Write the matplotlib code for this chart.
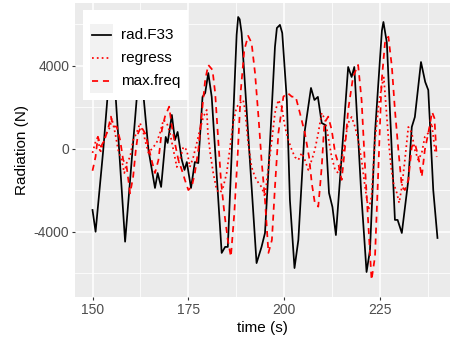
import matplotlib
matplotlib.use("Agg")
import matplotlib.pyplot as plt
from matplotlib.patches import Rectangle
from matplotlib.lines import Line2D

plt.rcParams["font.family"] = ["Liberation Sans", "DejaVu Sans"]

# rad.F33 (measured)
t_rad = [150.0, 150.8, 152.8, 155.0, 156.1, 158.5, 161.5, 162.5, 163.4, 164.6,
         166.3, 167.0, 167.9, 169.1, 169.6, 170.7, 171.5, 172.2, 173.3, 174.0,
         174.6, 175.7, 176.7, 177.6, 178.7, 179.4, 180.2, 181.1, 183.7, 184.6,
         185.3, 187.6, 188.0, 188.4, 188.9, 192.8, 194.1, 195.0, 196.3, 197.6,
         198.1, 198.9, 199.5, 200.7, 201.5, 202.7, 203.7, 205.3, 207.0, 207.9,
         208.8, 209.8, 210.7, 211.7, 212.6, 213.5, 214.8, 216.7, 217.6, 218.3,
         220.1, 221.5, 222.4, 223.7, 225.5, 225.9, 226.8, 228.9, 229.6, 230.7,
         232.4, 233.3, 234.1, 235.7, 236.8, 237.6, 238.9, 240.0]
y_rad = [-2940, -3990, -50, 5000, 2360, -4470, 2360, 5250, 2360, -50,
         -1880, -1160, -1830, 580, 290, 1640, 430, 820, -530, -1010,
         -630, -1880, -630, -680, 2510, 2700, 3660, 2510, -5010, -4720,
         -4720, 5500, 6360, 6250, 5590, -5500, -4720, -4050, 290, 4920,
         5830, 5980, 5590, 2360, -2460, -5740, -4390, 770, 2940, 2360,
         2510, 1250, 1160, -2120, -2800, -4150, -870, 3950, 3470, 3950,
         -2120, -5930, -4870, 770, 5700, 6120, 5110, -3420, -3420, -4050,
         -1490, 1060, 1540, 4190, 3230, 2840, -1980, -4290]

# regress
t_reg = [150.0, 150.7, 151.4, 152.0, 152.8, 153.7, 154.6, 155.0, 155.9, 156.7,
         157.6, 158.3, 158.9, 159.8, 160.6, 161.5, 162.4, 163.3, 163.7, 164.6,
         165.9, 166.7, 167.6, 168.5, 169.4, 170.2, 171.1, 172.0, 172.8, 173.7,
         174.6, 175.4, 176.3, 177.2, 178.0, 178.9, 179.8, 180.1, 180.7, 181.5,
         182.4, 183.3, 184.1, 185.0, 185.9, 186.7, 187.6, 188.5, 189.3, 189.8,
         190.6, 191.5, 192.4, 193.3, 194.1, 195.0, 195.9, 196.8, 197.6, 198.5,
         199.4, 200.2, 201.1, 202.0, 202.8, 203.7, 204.6, 205.4, 206.3, 207.2,
         208.0, 208.9, 209.8, 210.7, 211.5, 212.4, 213.3, 214.1, 215.0, 215.9,
         216.7, 217.6, 218.5, 219.3, 220.2, 221.1, 222.0, 222.8, 223.7, 224.6,
         225.4, 226.0, 227.3, 227.9, 228.5, 229.4, 230.0, 230.7, 231.5, 232.4,
         233.3, 234.1, 235.0, 235.9, 236.7, 237.6, 238.5, 239.4]
y_reg = [-190, 290, 580, -190, 290, 770, 1060, 1490, 770, -50,
         -530, -1160, -680, -390, 430, 770, 1250, 770, 430, -190,
         100, 290, 770, 1400, 1250, 770, -50, -870, -530, 100,
         -50, -870, -390, 290, 920, 1540, 1880, 770, -190, -1160,
         -1980, -2120, -1830, -1160, 100, 1250, 2020, 2220, 2360, 1880,
         290, -870, -1350, -1640, -1830, -2310, -870, 430, 1740, 2360,
         2020, 1060, 430, -50, -390, -530, -190, -530, -1010, -530,
         -50, 770, 1740, 1400, 580, -390, -1010, -1160, -530, 430,
         1250, 1540, 1060, 430, -530, -1830, -2940, -2310, 430, 2020,
         2990, 3450, 290, -870, -1640, -2120, -2600, -1830, -530, 1060,
         770, -50, -530, -190, 580, 770, 1250, -190]

# max.freq
t_max = [150.0, 150.8, 151.4, 152.2, 153.1, 154.0, 154.8, 155.4, 156.3, 157.2,
         158.0, 158.9, 159.8, 160.6, 161.3, 161.9, 162.7, 163.7, 164.6, 165.4,
         166.3, 167.2, 168.1, 168.9, 170.0, 170.7, 171.5, 172.4, 173.3, 174.1,
         175.0, 175.9, 176.7, 177.6, 178.6, 179.4, 180.2, 181.3, 182.0, 182.8,
         183.5, 184.4, 185.3, 186.1, 187.0, 187.9, 188.7, 189.6, 190.6, 191.5,
         192.4, 193.3, 194.1, 195.0, 195.9, 196.8, 197.6, 198.5, 199.8, 200.9,
         202.0, 203.0, 204.1, 205.4, 206.5, 207.2, 208.0, 208.9, 209.8, 210.5,
         211.5, 212.4, 213.3, 214.1, 215.0, 215.9, 216.7, 218.0, 219.3, 220.2,
         221.1, 222.0, 222.8, 223.7, 224.6, 225.4, 226.3, 227.2, 228.1, 228.9,
         229.8, 230.7, 231.5, 232.4, 233.3, 234.1, 235.0, 235.9, 236.7, 237.6,
         238.6, 239.2, 239.8]
y_max = [-1050, -370, 590, 110, 430, 920, 1560, 1080, 1080, 430,
         -530, -850, -2140, -1340, -50, 760, 1080, 760, 110, -530,
         -1160, -530, 920, 1560, 2040, 1080, 280, -530, -1010, -1490,
         -1980, -1820, -1160, -50, 1880, 3330, 4050, 3810, 2700, 430,
         -1490, -3090, -4390, -5190, -3090, -190, 2840, 4770, 5450, 5110,
         3660, 1540, -530, -2460, -5010, -4390, -1830, 770, 2520, 2700,
         2520, 2520, 1740, 770, -390, -1640, -2600, -2780, -870, 1250,
         1560, 920, -190, -680, -1490, 110, 1880, 3490, 4050, 2360,
         -870, -3760, -6310, -5190, -870, 3180, 5110, 5410, 3970, 1880,
         -50, -1820, -1980, -1490, 110, 280, -370, -1340, -50, 760,
         1780, 1490, -390]

xticks = [150, 175, 200, 225]
yticks = [-4000, 0, 4000]
ytick_labels = ["-4000", "0", "4000"]
series_names = ["rad.F33", "regress", "max.freq"]

fig = plt.figure(figsize=(4.5, 3.41), dpi=100)
ax = fig.add_axes([75 / 450, 1 - 296.7 / 341, 375 / 450, 293.4 / 341])
ax.set_facecolor("#EBEBEB")
for s in ax.spines.values():
    s.set_visible(False)

DOT = (0, (1, 1.8))
DASH = (0, (3.5, 2.8))
ax.plot(t_rad, y_rad, color="black", lw=1.25, zorder=3)
ax.plot(t_reg, y_reg, color="red", lw=1.25, ls=DOT, zorder=3)
ax.plot(t_max, y_max, color="red", lw=1.25, ls=DASH, zorder=3)

ax.set_xlim(145.43, 243.27)
ax.set_ylim(-7120, 7020)

ax.set_xticks(xticks)
ax.set_yticks(yticks, ytick_labels)
ax.set_xticks([162.5, 187.5, 212.5, 237.5], minor=True)
ax.set_yticks([-6000, -2000, 2000, 6000], minor=True)
ax.grid(which="major", color="white", lw=1.1, zorder=0)
ax.grid(which="minor", color="white", lw=0.55, zorder=0)
ax.set_axisbelow(True)
ax.tick_params(which="major", length=2.2, width=0.8, color="#333333",
               labelcolor="#4D4D4D", labelsize=10, pad=2)
ax.tick_params(which="minor", length=0)

ax.set_xlabel("time (s)", fontsize=11, labelpad=3)
ax.set_ylabel("Radiation (N)", fontsize=11, labelpad=3)

# legend drawn by hand, ggplot style
tr = ax.transAxes
ax.add_patch(Rectangle((0.0213, 0.6704), 0.28, 0.3068, transform=tr,
                       facecolor="white", edgecolor="none", zorder=10))
ax.add_patch(Rectangle((0.04, 0.6939), 0.0613, 0.2366, transform=tr,
                       facecolor="#F2F2F2", edgecolor="none", zorder=11))
styles = [dict(color="black", ls="-"),
          dict(color="red", ls=DOT),
          dict(color="red", ls=DASH)]
rows = [0.8903, 0.8119, 0.7335]
for name, st, yy in zip(series_names, styles, rows):
    ax.add_line(Line2D([0.046, 0.096], [yy, yy], transform=tr, lw=1.25,
                       zorder=12, **st))
    ax.text(0.1219, yy, name, transform=tr, va="center", ha="left",
            fontsize=11, zorder=12)

fig.savefig("out.png", dpi=100)
